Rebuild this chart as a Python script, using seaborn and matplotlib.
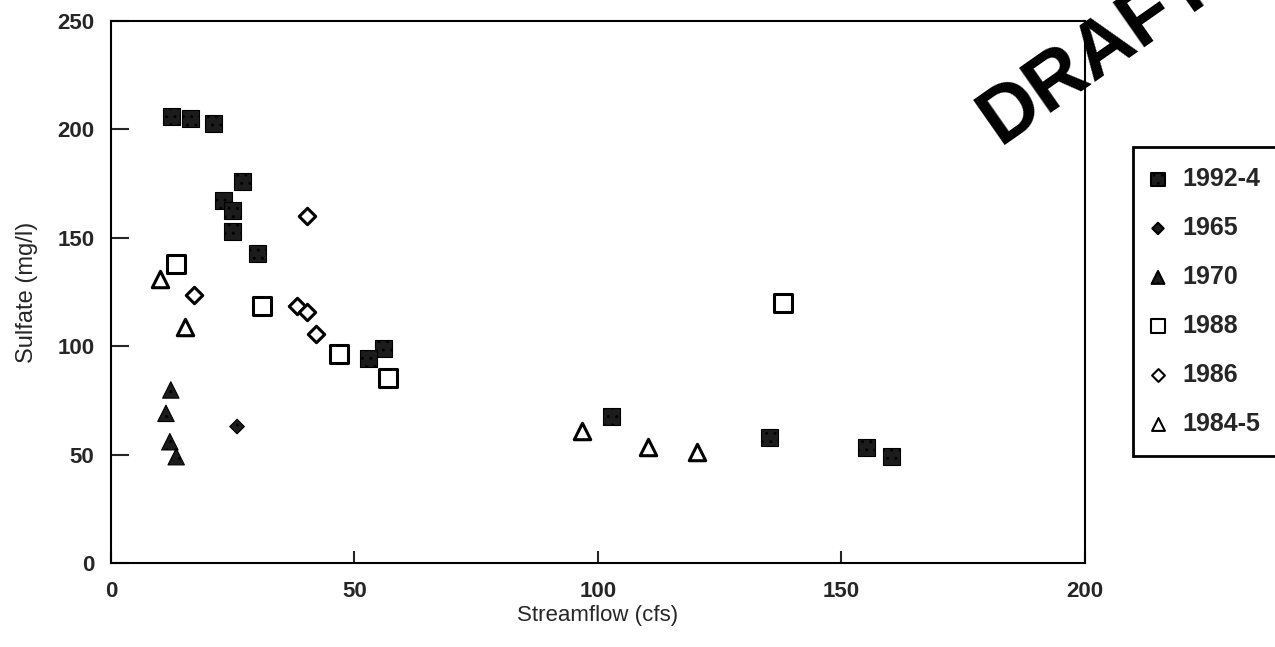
import matplotlib
matplotlib.use('Agg')
import matplotlib.pyplot as plt
import seaborn as sns
import pandas as pd

# series (streamflow cfs, sulfate mg/l)
flow_1992 = [12.5, 16.3, 21.0, 27.1, 23.1, 25.0, 25.0, 30.0, 55.9, 52.9, 102.8, 135.2, 155.1, 160.3]
sulf_1992 = [205.9, 205.1, 202.8, 175.9, 167.0, 162.5, 152.8, 142.8, 99.0, 94.4, 67.5, 58.0, 53.4, 49.0]

flow_1965 = [25.9]
sulf_1965 = [62.9]

flow_1970 = [12.3, 11.3, 12.1, 13.4]
sulf_1970 = [79.8, 69.0, 55.9, 49.0]

flow_1988 = [13.4, 31.1, 46.9, 56.9, 138.0]
sulf_1988 = [137.8, 118.7, 96.3, 85.2, 120.1]

flow_1986 = [40.3, 17.1, 38.2, 40.3, 42.1]
sulf_1986 = [160.2, 123.6, 118.5, 115.9, 105.5]

flow_1984 = [10.1, 15.2, 96.8, 110.2, 120.4]
sulf_1984 = [130.9, 108.7, 61.0, 53.6, 51.1]

sns.set_style('ticks')
plt.rcParams['font.family'] = ['Liberation Sans', 'DejaVu Sans']
plt.rcParams['hatch.color'] = 'white'
plt.rcParams['hatch.linewidth'] = 1.0

fig = plt.figure(figsize=(12.75, 6.47), dpi=100)
ax = fig.add_axes([0.087, 0.130, 0.764, 0.8375])

series = [
    ('1992-4', flow_1992, sulf_1992, dict(marker='s', s=150, color='#1c1c1c', edgecolor='black', linewidth=0.8, hatch='..')),
    ('1965', flow_1965, sulf_1965, dict(marker='D', s=55, color='#1c1c1c', edgecolor='black', linewidth=0.8, hatch='..')),
    ('1970', flow_1970, sulf_1970, dict(marker='^', s=140, color='#1c1c1c', edgecolor='black', linewidth=0.8, hatch='..')),
    ('1988', flow_1988, sulf_1988, dict(marker='s', s=150, facecolor='white', edgecolor='black', linewidth=2.2)),
    ('1986', flow_1986, sulf_1986, dict(marker='D', s=70, facecolor='white', edgecolor='black', linewidth=2.2)),
    ('1984-5', flow_1984, sulf_1984, dict(marker='^', s=140, facecolor='white', edgecolor='black', linewidth=2.2)),
]

for name, xs, ys, kw in series:
    df = pd.DataFrame({'flow': xs, 'sulfate': ys})
    sns.scatterplot(data=df, x='flow', y='sulfate', ax=ax, label=name, zorder=3, **kw)

ax.set_xlim(0, 200)
ax.set_ylim(0, 250)
ax.set_xticks([0, 50, 100, 150, 200])
ax.set_yticks([0, 50, 100, 150, 200, 250])
ax.tick_params(direction='in', width=1.5, labelsize=16)
ax.tick_params(axis='y', length=13, pad=12)
ax.tick_params(axis='x', length=9, pad=13)
for lab in ax.get_xticklabels() + ax.get_yticklabels():
    lab.set_fontweight('bold')
for sp in ax.spines.values():
    sp.set_linewidth(1.5)
    sp.set_color('black')

ax.set_xlabel('Streamflow (cfs)', fontsize=16, labelpad=2)
ax.set_ylabel('Sulfate (mg/l)', fontsize=17, labelpad=14)

leg = ax.legend(loc='upper left', bbox_to_anchor=(1133 / 1275, 1 - 147 / 647),
                bbox_transform=fig.transFigure, frameon=True, fancybox=False,
                framealpha=1, edgecolor='black', fontsize=18, labelspacing=1.0,
                handlelength=0.4, handletextpad=0.76, borderpad=0.8,
                markerscale=0.78, borderaxespad=0)
leg.get_frame().set_linewidth(2)
for t in leg.get_texts():
    t.set_fontweight('bold')
for h in leg.legend_handles:
    h.set_linewidth(1.5)

fig.text(0.8612, 0.9212, 'DRAFT', rotation=35, fontsize=57, fontweight='bold',
         ha='center', va='center', color='black')

fig.savefig('out.png', dpi=100)
